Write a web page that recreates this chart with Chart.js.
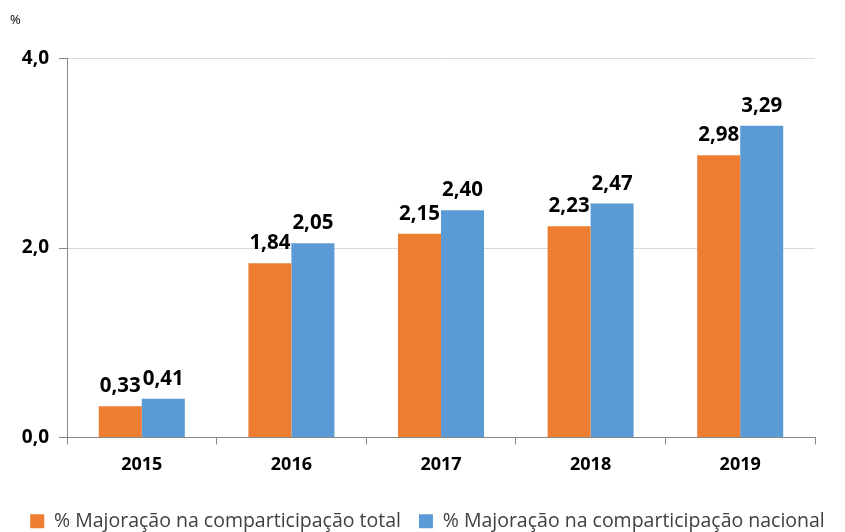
<!DOCTYPE html>
<html>
<head>
<meta charset="utf-8">
<script src="https://cdn.jsdelivr.net/npm/chart.js@4"></script>
<style>
  html, body { margin: 0; padding: 0; background: #fff; }
</style>
</head>
<body>
<canvas id="grafic" width="845" height="532"></canvas>
<script>
// dades llegides del grafic
const anys = ['2015', '2016', '2017', '2018', '2019'];
const majoracaoTotal = [0.33, 1.84, 2.15, 2.23, 2.98];
const majoracaoNacional = [0.41, 2.05, 2.40, 2.47, 3.29];
const ticksY = [0, 2, 4];

const fmt = v => v.toFixed(2).replace('.', ',');

// etiquetes sobre les barres
const etiquetes = {
  id: 'etiquetes',
  afterDatasetsDraw(chart) {
    const ctx = chart.ctx;
    ctx.save();
    ctx.font = 'bold 20.5px "Open Sans", sans-serif';
    ctx.fillStyle = '#000';
    ctx.textAlign = 'center';
    ctx.textBaseline = 'alphabetic';
    chart.data.datasets.forEach((ds, i) => {
      chart.getDatasetMeta(i).data.forEach((bar, j) => {
        ctx.fillText(fmt(ds.data[j]), bar.x, bar.y - 14);
      });
    });
    ctx.restore();
  }
};

new Chart(document.getElementById('grafic').getContext('2d'), {
  type: 'bar',
  data: {
    labels: anys,
    datasets: [{
      label: '% Majoração na comparticipação total',
      data: majoracaoTotal,
      backgroundColor: '#ED7D31',
      categoryPercentage: 0.575,
      barPercentage: 1
    }, {
      label: '% Majoração na comparticipação nacional',
      data: majoracaoNacional,
      backgroundColor: '#5B9BD5',
      categoryPercentage: 0.575,
      barPercentage: 1
    }]
  },
  options: {
    responsive: false,
    animation: false,
    layout: { padding: { left: 10, right: 0, top: 0, bottom: -9 } },
    plugins: {
      title: {
        display: true,
        text: '%',
        align: 'start',
        color: '#000',
        font: { size: 13, weight: 'normal', family: '"Open Sans", sans-serif' },
        padding: { top: 12, bottom: 31 }
      },
      legend: {
        position: 'bottom',
        labels: {
          boxWidth: 14,
          boxHeight: 14,
          padding: 18,
          color: '#404040',
          font: { size: 19.5, family: '"Open Sans", sans-serif' }
        }
      },
      tooltip: { enabled: false }
    },
    scales: {
      x: {
        afterFit: s => { s.height = 56; },
        grid: { display: true, offset: true, drawOnChartArea: false, tickLength: 7, color: '#888' },
        border: { color: '#888' },
        ticks: { color: '#000', padding: 10, font: { size: 18, weight: 'bold', family: '"Open Sans", sans-serif' } }
      },
      y: {
        min: 0,
        max: 4,
        afterBuildTicks: s => { s.ticks = ticksY.map(v => ({ value: v })); },
        afterFit: s => { s.width = 57; },
        grid: { color: '#d9d9d9', tickLength: 8, tickColor: '#888' },
        border: { color: '#888' },
        ticks: {
          color: '#000',
          padding: 10,
          font: { size: 19, weight: 'bold', family: '"Open Sans", sans-serif' },
          callback: v => v.toFixed(1).replace('.', ',')
        }
      },
      marge: {
        // eix buit per deixar marge a la dreta
        position: 'right',
        min: 0,
        max: 4,
        afterFit: s => { s.width = 30; },
        grid: { display: false },
        border: { display: false },
        ticks: { display: false }
      }
    }
  },
  plugins: [etiquetes]
});
</script>
</body>
</html>
